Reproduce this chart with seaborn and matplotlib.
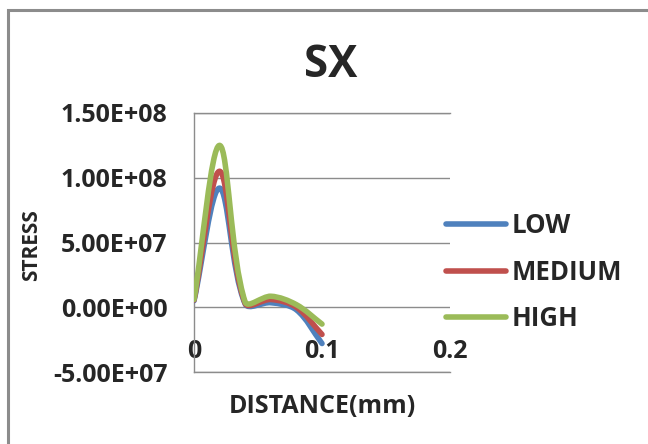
import numpy as np
import pandas as pd
import matplotlib
matplotlib.use("Agg")
import matplotlib.pyplot as plt
import seaborn as sns
from matplotlib.path import Path
from matplotlib.patches import PathPatch, Rectangle
from matplotlib.lines import Line2D

# values
distance = [0.0, 0.02, 0.04, 0.06, 0.08, 0.10]
low = [5e6, 9.2e7, 2.5e6, 3.5e6, -2e6, -2.8e7]
medium = [5.5e6, 1.05e8, 3e6, 6e6, 0.0, -2.1e7]
high = [6e6, 1.25e8, 4e6, 8.5e6, 2e6, -1.3e7]
levels = ["LOW", "MEDIUM", "HIGH"]
colors = ["#4F81BD", "#C0504D", "#9BBB59"]
y_ticks = [-5e7, 0, 5e7, 1e8, 1.5e8]
x_ticks = [0, 0.1, 0.2]
x_tick_labels = ["0", "0.1", "0.2"]

df = pd.DataFrame({
    "distance": distance * 3,
    "stress": low + medium + high,
    "level": np.repeat(levels, len(distance)),
})

sns.set_theme(style="white")
plt.rcParams["font.family"] = ["Open Sans", "DejaVu Sans"]
plt.rcParams["font.weight"] = "bold"
GREY = "#8c8c8c"


def smooth_patch(ax, xs, ys, color):
    """Excel-like smoothed line: cubic bezier through every data point."""
    pts = ax.transData.transform(np.column_stack([xs, ys]))
    n = len(pts)
    verts, codes = [pts[0]], [Path.MOVETO]
    ctrl_in, ctrl_out = [], []
    for i in range(n):
        prev = pts[max(i - 1, 0)]
        nxt = pts[min(i + 1, n - 1)]
        tan = nxt - prev
        d_in = np.hypot(*(pts[i] - prev))
        d_out = np.hypot(*(nxt - pts[i]))
        tot = d_in + d_out
        ctrl_in.append(pts[i] - tan * d_in / tot / 3)
        ctrl_out.append(pts[i] + tan * d_out / tot / 3)
    for i in range(n - 1):
        verts += [ctrl_out[i], ctrl_in[i + 1], pts[i + 1]]
        codes += [Path.CURVE4] * 3
    verts = ax.transData.inverted().transform(np.array(verts))
    patch = PathPatch(Path(verts, codes), fill=False, edgecolor=color, lw=4,
                      capstyle="round", joinstyle="round", zorder=3)
    ax.add_patch(patch)


fig = plt.figure(figsize=(6.48, 4.44), dpi=100)
ax = fig.add_axes([194 / 648, 1 - 372 / 444, 256 / 648, 259 / 444])
ax.set_xlim(0, 0.2)
ax.set_ylim(-5e7, 1.5e8)

sns.lineplot(data=df, x="distance", y="stress", hue="level", hue_order=levels,
             palette=colors, lw=4, legend=False, ax=ax)
# swap seaborn's straight segments for smoothed curves
for line in ax.lines:
    line.set_visible(False)
for vals, c in zip([low, medium, high], colors):
    smooth_patch(ax, distance, vals, c)

ax.set_yticks(y_ticks)
ax.set_yticklabels([f"{v:.2E}" for v in y_ticks])
ax.set_xticks(x_ticks)
ax.set_xticklabels(x_tick_labels)
ax.tick_params(axis="y", length=0, pad=19, labelsize=18)
ax.tick_params(axis="x", length=0, pad=-10, labelsize=18)
for lbl in ax.get_xticklabels():
    lbl.set_va("baseline")
ax.grid(axis="y", color=GREY, lw=1)
ax.grid(axis="x", visible=False)
for s in ["top", "bottom", "left"]:
    ax.spines[s].set_color(GREY)
    ax.spines[s].set_linewidth(1)
ax.spines["right"].set_visible(False)
ax.set_xlabel("")
ax.set_ylabel("")

fig.text(331 / 648, 1 - 77 / 444, "SX", ha="center", va="baseline",
         fontsize=31.5, fontweight="bold")
fig.text(322 / 648, 1 - 413 / 444, "DISTANCE(mm)", ha="center", va="baseline",
         fontsize=18, fontweight="bold")
fig.text(37 / 648, 1 - 245 / 444, "STRESS", ha="center", va="baseline",
         rotation=90, rotation_mode="anchor", fontsize=15, fontweight="bold")

handles = [Line2D([], [], color=c, lw=4) for c in colors]
ax.legend(handles, levels, loc="center left",
          bbox_to_anchor=(446 / 648, 1 - 272 / 444), bbox_transform=fig.transFigure,
          frameon=False, borderpad=0, borderaxespad=0, handlelength=2.33,
          handletextpad=0.23, labelspacing=0.76, fontsize=18.5)

# outer chart frame (runs off the right and bottom edges)
fig.patches.append(Rectangle((7.5 / 648, -0.2), 1.2, 1.2 - 10.5 / 444,
                             transform=fig.transFigure, fill=False,
                             edgecolor=GREY, lw=2.2, figure=fig))

fig.savefig("out.png", dpi=100)
